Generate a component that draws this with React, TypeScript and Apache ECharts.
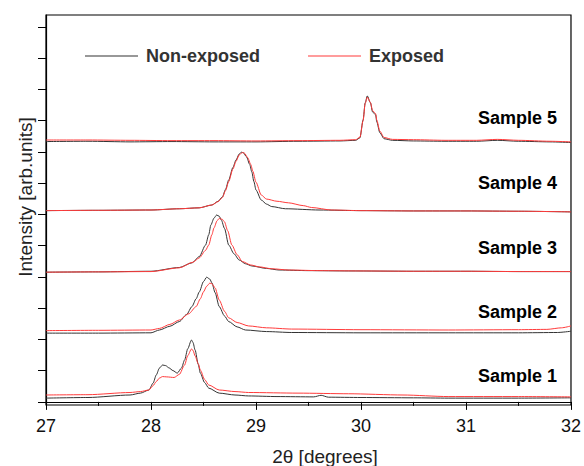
import React, { useEffect, useRef } from "react";
import * as echarts from "echarts";

const FONT = "'Liberation Sans', Arial, Helvetica, sans-serif";

// 2θ [degrees], intensity [arb. units] (one tick = 100 arb. units)
const s1NonExposed: [number, number][] = [[27.0,12],[27.4,14],[27.8,22],[27.9,28],[27.98,38],[28.02,60],[28.05,86],[28.08,108],[28.11,118],[28.14,116],[28.17,109],[28.21,100],[28.25,92],[28.29,108],[28.32,134],[28.35,170],[28.385,198],[28.4,190],[28.42,166],[28.45,120],[28.47,92],[28.51,62],[28.55,44],[28.65,28],[28.8,22],[28.93,19],[29.2,17],[29.55,16],[29.62,21],[29.69,15],[30.0,14],[30.5,13],[30.83,12],[31.5,12],[32.0,13]];
const s1Exposed: [number, number][] = [[27.0,22],[27.4,23],[27.8,30],[27.9,33],[27.98,38],[28.02,52],[28.05,65],[28.08,76],[28.11,81],[28.15,80],[28.22,78],[28.27,88],[28.32,118],[28.35,148],[28.385,169],[28.4,165],[28.42,147],[28.45,122],[28.47,102],[28.51,72],[28.55,54],[28.65,38],[28.8,33],[28.93,30],[29.4,28],[29.88,26],[30.4,22],[30.83,17],[31.5,17],[32.0,16]];

const s2NonExposed: [number, number][] = [[27.0,220],[27.5,220],[28.0,221],[28.08,230],[28.18,242],[28.27,257],[28.34,280],[28.39,305],[28.43,330],[28.46,352],[28.5,385],[28.53,399],[28.56,393],[28.58,381],[28.61,350],[28.65,305],[28.7,275],[28.74,257],[28.82,240],[28.9,230],[29.1,225],[29.34,222],[30.0,221],[30.83,221],[31.5,221],[31.87,222],[32.0,226]];
const s2Exposed: [number, number][] = [[27.0,228],[27.5,229],[28.0,230],[28.08,235],[28.18,248],[28.27,262],[28.36,282],[28.43,305],[28.47,330],[28.5,352],[28.53,370],[28.56,380],[28.58,378],[28.61,365],[28.65,326],[28.7,290],[28.74,269],[28.82,254],[28.93,243],[29.1,237],[29.34,233],[30.0,231],[30.83,230],[31.5,231],[31.77,232],[31.91,237],[32.0,243]];

const s3NonExposed: [number, number][] = [[27.0,415],[27.5,416],[28.0,418],[28.27,430],[28.39,445],[28.46,465],[28.52,502],[28.55,535],[28.57,566],[28.6,588],[28.625,598],[28.65,594],[28.67,582],[28.7,555],[28.74,502],[28.79,474],[28.84,454],[28.9,442],[28.96,435],[29.1,427],[29.22,422],[29.5,420],[29.88,419],[30.5,418],[31.0,418],[31.5,417],[32.0,417]];
const s3Exposed: [number, number][] = [[27.0,415],[27.5,416],[28.0,417],[28.27,429],[28.4,447],[28.46,461],[28.52,485],[28.55,502],[28.58,535],[28.6,557],[28.63,580],[28.65,587],[28.68,584],[28.7,576],[28.73,548],[28.77,502],[28.82,471],[28.87,449],[28.95,438],[29.03,432],[29.15,426],[29.31,422],[29.6,420],[30.0,419],[30.5,418],[31.0,418],[31.5,417],[32.0,417]];

const s4NonExposed: [number, number][] = [[27.0,612],[27.5,613],[28.0,614],[28.27,618],[28.46,621],[28.58,630],[28.64,642],[28.68,656],[28.71,680],[28.74,710],[28.78,750],[28.81,774],[28.84,793],[28.86,799],[28.88,797],[28.91,784],[28.94,760],[28.96,736],[28.98,705],[29.0,678],[29.05,646],[29.1,633],[29.15,625],[29.28,618],[29.6,614],[30.0,612],[30.5,611],[31.0,611],[31.5,610],[32.0,608]];
const s4Exposed: [number, number][] = [[27.0,612],[27.5,613],[28.0,614],[28.27,618],[28.46,621],[28.58,630],[28.64,641],[28.68,654],[28.71,676],[28.74,705],[28.78,745],[28.81,770],[28.84,790],[28.87,798],[28.89,796],[28.92,782],[28.95,760],[28.97,738],[29.0,703],[29.05,662],[29.1,649],[29.2,642],[29.31,637],[29.45,628],[29.53,622],[29.72,614],[30.0,612],[30.5,611],[31.0,611],[31.5,610],[32.0,608]];

const s5NonExposed: [number, number][] = [[27.0,833],[27.4,834],[27.8,832],[28.2,833],[28.6,832],[29.0,832],[29.4,834],[29.8,835],[29.95,837],[29.99,845],[30.02,902],[30.04,957],[30.06,979],[30.09,957],[30.11,928],[30.14,918],[30.15,896],[30.18,861],[30.22,842],[30.3,837],[30.5,835],[30.8,834],[31.1,834],[31.3,837],[31.5,834],[31.8,832],[32.0,830]];
const s5Exposed: [number, number][] = [[27.0,838],[27.4,838],[27.8,837],[28.2,836],[28.6,836],[29.0,835],[29.4,836],[29.8,837],[29.95,839],[29.99,847],[30.02,900],[30.04,955],[30.06,975],[30.09,958],[30.11,932],[30.14,922],[30.15,902],[30.18,866],[30.22,846],[30.3,840],[30.5,839],[30.8,837],[31.1,837],[31.3,840],[31.5,837],[31.8,834],[32.0,832]];

const nonExposedSets = [s1NonExposed, s2NonExposed, s3NonExposed, s4NonExposed, s5NonExposed];
const exposedSets = [s1Exposed, s2Exposed, s3Exposed, s4Exposed, s5Exposed];

const sampleLabels = ["Sample 1", "Sample 2", "Sample 3", "Sample 4", "Sample 5"];
const sampleLabelY = [376, 312, 248, 183, 118];
const yTickValues = [0, 100, 200, 300, 400, 500, 600, 700, 800, 900, 1000, 1100, 1200];

const BLACK = "#333333";
const RED = "#ff3b3b";

export default function App() {
  const ref = useRef<HTMLDivElement>(null);
  useEffect(() => {
    if (!ref.current) return;
    const chart = echarts.init(ref.current, undefined, { renderer: "svg" });
    const mkSeries = (name: string, data: [number, number][], color: string) => ({
      name,
      type: "line",
      data,
      symbol: "none",
      showSymbol: false,
      smooth: 0.25,
      smoothMonotone: "x",
      lineStyle: { color, width: 1 },
      itemStyle: { color },
      z: name === "Exposed" ? 3 : 2,
    });
    const series: any[] = [];
    nonExposedSets.forEach((d) => series.push(mkSeries("Non-exposed", d, BLACK)));
    exposedSets.forEach((d) => series.push(mkSeries("Exposed", d, RED)));

    chart.setOption({
      animation: false,
      backgroundColor: "#ffffff",
      textStyle: { fontFamily: FONT },
      grid: {
        left: 46,
        right: 10,
        top: 15,
        bottom: 61,
        show: true,
        borderColor: "#000",
        borderWidth: 1.2,
      },
      legend: {
        data: ["Non-exposed", "Exposed"],
        left: 80,
        top: 42,
        icon: "rect",
        itemWidth: 53,
        itemHeight: 1.2,
        itemGap: 48,
        textStyle: {
          fontSize: 18,
          fontWeight: "bold",
          color: "#333",
          fontFamily: FONT,
          padding: [0, 0, 0, 3],
        },
      },
      xAxis: {
        type: "value",
        min: 27,
        max: 32,
        interval: 1,
        axisLine: { show: true, lineStyle: { color: "#000", width: 1.2 } },
        axisTick: { show: true, inside: false, length: 8, lineStyle: { color: "#000", width: 1 } },
        minorTick: { show: true, splitNumber: 2, length: 4, lineStyle: { color: "#000", width: 1 } },
        splitLine: { show: false },
        minorSplitLine: { show: false },
        axisLabel: { fontSize: 18, color: "#111", margin: 12, fontFamily: FONT },
      },
      yAxis: {
        type: "value",
        min: -10,
        max: 1238,
        axisLine: { show: true, lineStyle: { color: "#000", width: 1.2 } },
        axisTick: {
          show: true,
          inside: false,
          length: 8,
          customValues: yTickValues,
          lineStyle: { color: "#000", width: 1 },
        },
        axisLabel: { show: false },
        splitLine: { show: false },
      },
      graphic: [
        {
          type: "text",
          x: 25,
          y: 197,
          rotation: Math.PI / 2,
          style: {
            text: "Intensity [arb.units]",
            fontSize: 19,
            fontFamily: FONT,
            fill: "#222",
            align: "center",
            verticalAlign: "middle",
          },
        },
        {
          type: "text",
          x: 325,
          y: 456,
          style: {
            text: "2θ [degrees]",
            fontSize: 19,
            fontFamily: FONT,
            fill: "#222",
            align: "center",
            verticalAlign: "middle",
          },
        },
        ...sampleLabels.map((t, i) => ({
          type: "text",
          x: 557,
          y: sampleLabelY[i],
          style: {
            text: t,
            fontSize: 18,
            fontWeight: "bold",
            fontFamily: FONT,
            fill: "#000",
            align: "right",
            verticalAlign: "middle",
          },
        })),
      ],
      series,
    });
    return () => chart.dispose();
  }, []);
  return (
    <div
      ref={ref}
      style={{ position: "fixed", left: 0, top: 0, width: 584, height: 466, background: "#fff" }}
    />
  );
}
